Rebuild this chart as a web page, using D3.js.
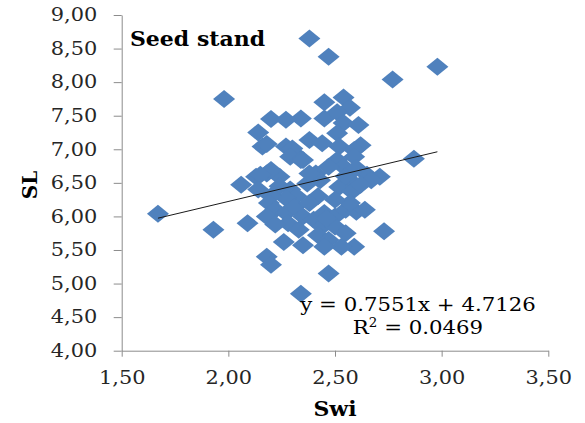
<!DOCTYPE html>
<html>
<head>
<meta charset="utf-8">
<script src="https://cdn.jsdelivr.net/npm/d3@7"></script>
<style>
  body { margin: 0; background: #fff; }
  svg { display: block; }
  .tick text { transform-box: fill-box; }
</style>
</head>
<body>
<div id="chart"></div>
<script>
// ============================
// Data
// ============================
const swi = [
  1.67, 1.98, 1.93, 2.38, 2.47, 2.98, 2.77, 2.87, 2.34, 2.47, 2.73, 2.59, 2.09, 2.06, 2.18, 2.20, 2.26, 2.35,
  2.45, 2.54, 2.57, 2.45, 2.51, 2.54, 2.61, 2.34, 2.20, 2.27, 2.14, 2.16, 2.18, 2.27, 2.31, 2.38, 2.44, 2.51,
  2.52, 2.62, 2.59, 2.30, 2.29, 2.34,
  2.59, 2.51, 2.54, 2.35, 2.41, 2.47, 2.71, 2.65, 2.67, 2.57, 2.52, 2.58, 2.43, 2.37, 2.18, 2.13, 2.24, 2.38,
  2.20, 2.15, 2.24, 2.29, 2.32, 2.27, 2.20, 2.14, 2.62, 2.55, 2.60,
  2.19, 2.22, 2.18, 2.27, 2.31, 2.35, 2.28, 2.22, 2.33, 2.40, 2.44, 2.45, 2.50, 2.42, 2.47, 2.53, 2.45, 2.50,
  2.55, 2.60, 2.64, 2.57, 2.50, 2.42, 2.38, 2.55, 2.46
];
const sl = [
  6.04, 7.75, 5.80, 8.65, 8.38, 8.23, 8.04, 6.86, 4.85, 5.15, 5.78, 5.55, 5.90, 6.47, 5.40, 5.28, 5.62, 5.57,
  7.70, 7.77, 7.62, 7.46, 7.55, 7.39, 7.36, 7.46, 7.45, 7.44, 7.25, 7.04, 7.08, 7.04, 6.94, 7.14, 7.09, 7.24,
  7.04, 7.06, 6.99, 7.01, 6.89, 6.84,
  6.89, 6.84, 6.74, 6.84, 6.64, 6.74, 6.59, 6.62, 6.54, 6.54, 6.44, 6.37, 6.54, 6.49, 6.64, 6.59, 6.59, 6.64,
  6.69, 6.62, 6.45, 6.40, 6.30, 6.27, 6.30, 6.40, 6.47, 6.60, 6.72,
  6.20, 6.10, 6.00, 6.05, 6.14, 6.00, 5.90, 5.88, 5.80, 5.95, 5.85, 6.05, 6.00, 5.72, 5.65, 5.55, 5.55, 5.85,
  6.10, 6.07, 6.10, 6.20, 6.25, 6.30, 6.20, 5.75, 5.97
];
const xTicks = [1.5, 2.0, 2.5, 3.0, 3.5];
const yTicks = [4.0, 4.5, 5.0, 5.5, 6.0, 6.5, 7.0, 7.5, 8.0, 8.5, 9.0];
const slope = 0.7551, intercept = 4.7126, r2 = "0.0469";
const title = "Seed stand", xTitle = "Swi", yTitle = "SL";

// ============================
// Setup
// ============================
const width = 585, height = 423;
const serif = "'DejaVu Serif', serif";

const svg = d3.select("#chart").append("svg")
  .attr("width", width).attr("height", height)
  .attr("viewBox", [0, 0, width, height]);

const xscale = d3.scaleLinear().domain([1.5, 3.5]).range([121.7, 548.3]);
const yscale = d3.scaleLinear().domain([4, 9]).range([350.7, 15]);
const fmt = d => d3.format(".2f")(d).replace(".", ",");

const data = swi.map((d, i) => ({x: d, y: sl[i]}));

// Axes
const axisColor = "#8c8c8c";
const yAxis = svg.append("g")
  .attr("transform", `translate(${xscale.range()[0]},0)`)
  .call(d3.axisLeft(yscale).tickValues(yTicks).tickFormat(fmt).tickSize(8).tickPadding(16.5).tickSizeOuter(0));
const xAxis = svg.append("g")
  .attr("transform", `translate(0,${yscale.range()[0]})`)
  .call(d3.axisBottom(xscale).tickValues(xTicks).tickFormat(fmt).tickSize(6).tickPadding(15).tickSizeOuter(0));

[xAxis, yAxis].forEach(g => {
  g.select(".domain").attr("stroke", axisColor);
  g.selectAll(".tick line").attr("stroke", axisColor);
  g.selectAll(".tick text")
    .attr("fill", "#262626")
    .style("font-family", serif)
    .style("font-size", "18px");
});
yAxis.selectAll(".tick text").style("transform-origin", "right center").style("transform", "scaleX(1.16)");
xAxis.selectAll(".tick text").style("transform-origin", "center").style("transform", "scaleX(1.16)");

// Points
const diamond = "M0,-9L11,0L0,9L-11,0Z";
svg.append("g")
  .attr("fill", "#4F81BD")
  .selectAll("path")
  .data(data)
  .join("path")
  .attr("d", diamond)
  .attr("transform", d => `translate(${xscale(d.x)},${yscale(d.y)})`);

// Trend line (min to max x)
const [xmin, xmax] = d3.extent(swi);
const trend = d3.line().x(d => xscale(d)).y(d => yscale(slope * d + intercept));
svg.append("path")
  .attr("d", trend([xmin, xmax]))
  .attr("stroke", "#1a1a1a")
  .attr("stroke-width", 1)
  .attr("fill", "none");

// Texts
function addText(txt, x, y, opts) {
  const t = svg.append("text")
    .attr("x", x).attr("y", y)
    .attr("text-anchor", opts.anchor || "middle")
    .attr("fill", opts.fill || "#000")
    .style("font-family", serif)
    .style("font-size", opts.size + "px")
    .style("font-weight", opts.bold ? "bold" : "normal")
    .style("transform-box", "fill-box")
    .style("transform-origin", "center")
    .style("transform", `scaleX(${opts.sx || 1})`);
  if (txt) t.text(txt);
  return t;
}

addText(title, 130, 46, {anchor: "start", size: 20, bold: true, sx: 1.1}).style("transform-origin", "left center");
addText(xTitle, 335, 416, {size: 20, bold: true, sx: 1.1});
svg.append("text")
  .attr("transform", `translate(37,185) rotate(-90)`)
  .attr("text-anchor", "middle")
  .style("font-family", serif)
  .style("font-size", "20px")
  .style("font-weight", "bold")
  .text(yTitle);

const eq = addText(null, 418, 311, {size: 19, sx: 1.12});
eq.text(`y = ${slope}x + ${intercept}`);
const r = addText(null, 418, 334, {size: 19, sx: 1.12});
r.append("tspan").text("R");
r.append("tspan").attr("dy", -7).style("font-size", "12px").text("2");
r.append("tspan").attr("dy", 7).text(` = ${r2}`);
</script>
</body>
</html>
